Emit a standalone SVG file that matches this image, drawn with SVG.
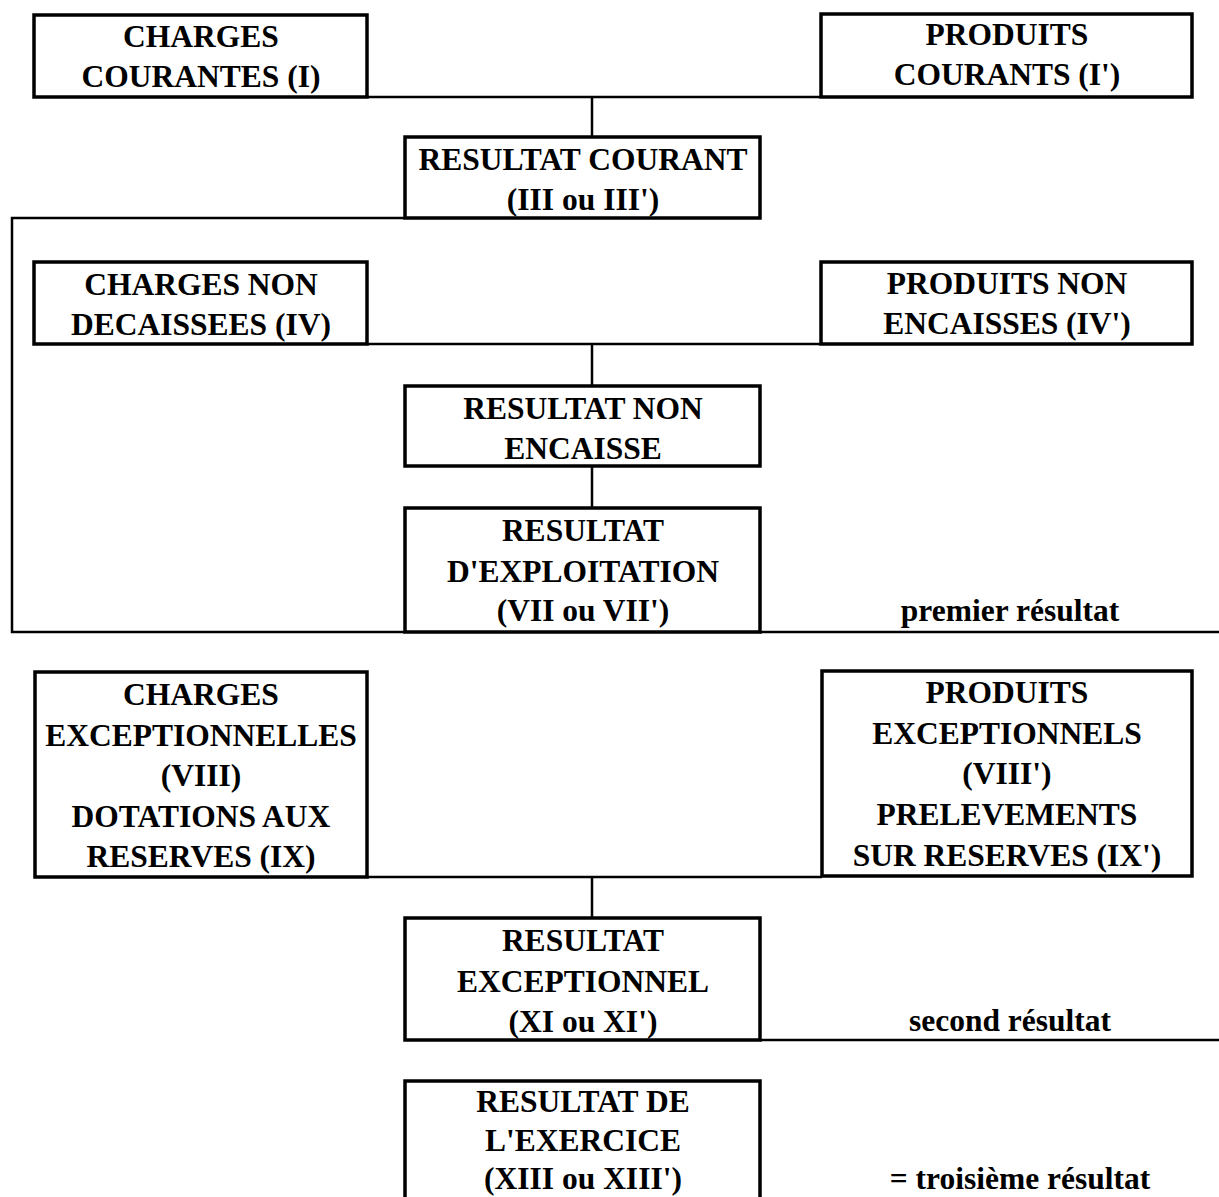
<svg xmlns="http://www.w3.org/2000/svg" width="1219" height="1197" viewBox="0 0 1219 1197">
<style>
.box{fill:#fff;stroke:#000;stroke-width:3.5}
.ln{stroke:#000;stroke-width:2.5;fill:none}
text{font-family:"Liberation Serif","Times New Roman",serif;font-weight:bold;font-size:31.5px;fill:#000;text-anchor:middle}
</style>
<rect width="1219" height="1197" fill="#fff"/>
<g id="connectors">
<line class="ln" x1="367" y1="97" x2="820" y2="97"/>
<line class="ln" x1="592" y1="97" x2="592" y2="137"/>
<polyline class="ln" points="405,218 12,218 12,632 405,632"/>
<line class="ln" x1="760" y1="632" x2="1219" y2="632"/>
<line class="ln" x1="367" y1="344" x2="820" y2="344"/>
<line class="ln" x1="592" y1="344" x2="592" y2="386"/>
<line class="ln" x1="592" y1="466" x2="592" y2="508"/>
<line class="ln" x1="367" y1="877" x2="822" y2="877"/>
<line class="ln" x1="592" y1="877" x2="592" y2="918"/>
<line class="ln" x1="760" y1="1040" x2="1219" y2="1040"/>
</g>
<g id="charges-courantes">
<rect class="box" x="34" y="15" width="333" height="82"/>
<text x="201" y="47">CHARGES</text>
<text x="201" y="87">COURANTES (I)</text>
</g>
<g id="produits-courants">
<rect class="box" x="821" y="14" width="371" height="83"/>
<text x="1007" y="45">PRODUITS</text>
<text x="1007" y="85">COURANTS (I')</text>
</g>
<g id="resultat-courant">
<rect class="box" x="405" y="137" width="355" height="81"/>
<text x="583" y="170">RESULTAT COURANT</text>
<text x="583" y="210">(III ou III')</text>
</g>
<g id="charges-non-decaissees">
<rect class="box" x="34" y="262" width="333" height="82"/>
<text x="201" y="295">CHARGES NON</text>
<text x="201" y="335">DECAISSEES (IV)</text>
</g>
<g id="produits-non-encaisses">
<rect class="box" x="821" y="262" width="371" height="82"/>
<text x="1007" y="294">PRODUITS NON</text>
<text x="1007" y="334">ENCAISSES (IV')</text>
</g>
<g id="resultat-non-encaisse">
<rect class="box" x="405" y="386" width="355" height="80"/>
<text x="583" y="419">RESULTAT NON</text>
<text x="583" y="459">ENCAISSE</text>
</g>
<g id="resultat-exploitation">
<rect class="box" x="405" y="508" width="355" height="124"/>
<text x="583" y="541">RESULTAT</text>
<text x="583" y="582">D'EXPLOITATION</text>
<text x="583" y="621">(VII ou VII')</text>
</g>
<g id="premier-resultat">
<text x="1010" y="621">premier résultat</text>
</g>
<g id="charges-exceptionnelles">
<rect class="box" x="35" y="672" width="332" height="205"/>
<text x="201" y="705">CHARGES</text>
<text x="201" y="746">EXCEPTIONNELLES</text>
<text x="201" y="786">(VIII)</text>
<text x="201" y="827">DOTATIONS AUX</text>
<text x="201" y="867">RESERVES (IX)</text>
</g>
<g id="produits-exceptionnels">
<rect class="box" x="822" y="671" width="370" height="205"/>
<text x="1007" y="703">PRODUITS</text>
<text x="1007" y="744">EXCEPTIONNELS</text>
<text x="1007" y="784">(VIII')</text>
<text x="1007" y="825">PRELEVEMENTS</text>
<text x="1007" y="866">SUR RESERVES (IX')</text>
</g>
<g id="resultat-exceptionnel">
<rect class="box" x="405" y="918" width="355" height="122"/>
<text x="583" y="951">RESULTAT</text>
<text x="583" y="992">EXCEPTIONNEL</text>
<text x="583" y="1032">(XI ou XI')</text>
</g>
<g id="second-resultat">
<text x="1010" y="1031">second résultat</text>
</g>
<g id="resultat-exercice">
<rect class="box" x="405" y="1081" width="355" height="130"/>
<text x="583" y="1112">RESULTAT DE</text>
<text x="583" y="1151">L'EXERCICE</text>
<text x="583" y="1189">(XIII ou XIII')</text>
</g>
<g id="troisieme-resultat">
<text x="1020" y="1189">= troisième résultat</text>
</g>
</svg>
